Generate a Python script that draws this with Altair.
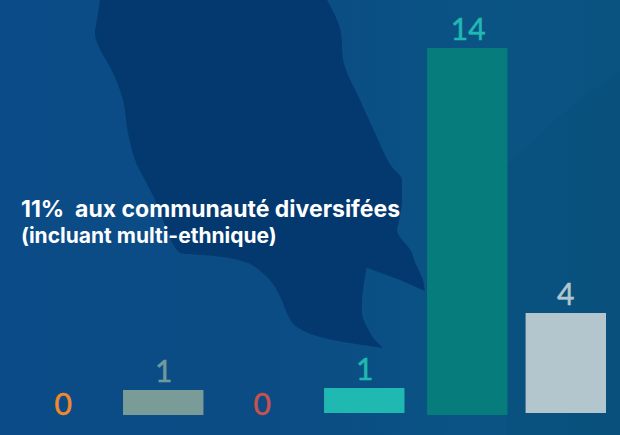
import altair as alt
import pandas as pd

W, H = 620, 435

categories = ["A", "B", "C", "D", "E", "F"]
shown_values = [0, 1, 0, 1, 14, 4]
bar_tops = [0, 0.95, 0, 1.03, 14, 3.89]
bar_bases = [0, 0, 0, 0.08, 0, 0.08]
bar_colors = ["#f08a2c", "#7a9c98", "#c9514f", "#20b9b2", "#077c7c", "#b3c5cd"]
label_colors = ["#f08a2c", "#6f9a9e", "#c9514f", "#20b9b2", "#20b9b2", "#b3c6ce"]

headline = ["11%\u00a0 aux communauté diversifées", "(incluant multi-ethnique)"]

blob_y = [0, 20, 33, 60, 67, 100, 133, 167, 180, 200, 225, 230, 253, 256, 262, 267]
blob_l = [100, 97, 95, 106, 110, 123, 128, 138, 145, 155, 165, 167, 180, 215, 245, 255]
blob_r = [327, 337, 341, 343, 345, 360, 375, 392, 402, 402, 398, 397, 412, 413, 415, 417]
tail_y = [266, 277, 303, 313, 327, 340, 348]
tail_l = [254, 267, 283, 287, 297, 333, 383]
tail_r = [367, 365, 362, 362, 367, 375, 383]
wing_y = [266, 280, 291]
wing_l = [362, 400, 425]
wing_r = [417, 423, 425]
shade_y = [72, 100, 130, 165, 435]
shade_l = [620, 578, 545, 507, 507]
shade_r = [620, 620, 620, 620, 620]

df = pd.DataFrame({"cat": categories, "val": shown_values, "top": bar_tops, "base": bar_bases,
                   "bar": bar_colors, "lab": label_colors})

px = alt.Scale(domain=[0, W], range=[0, W])
py = alt.Scale(domain=[0, H], range=[0, H])
xb = alt.Scale(type="band", domain=categories, range=[23, 606], paddingInner=0.2, paddingOuter=0)
yv = alt.Scale(domain=[0, 14], range=[415, 48])
noax = None

bg = alt.Chart(pd.DataFrame({"a": [0], "b": [W], "c": [0], "d": [H]})).mark_rect(
    color=alt.Gradient(gradient="linear", x1=0, x2=1, y1=0, y2=0, stops=[
        alt.GradientStop(offset=0, color="#0b4c88"),
        alt.GradientStop(offset=0.45, color="#0b4c84"),
        alt.GradientStop(offset=0.8, color="#0a5484"),
        alt.GradientStop(offset=1, color="#0a5280"),
    ])
).encode(
    x=alt.X("a:Q", scale=px, axis=noax), x2="b:Q",
    y=alt.Y("c:Q", scale=py, axis=noax), y2="d:Q",
)


def band(ys, ls, rs, color, opacity=1.0, interpolate="monotone"):
    d = pd.DataFrame({"y": ys, "l": ls, "r": rs})
    return alt.Chart(d).mark_area(orient="horizontal", color=color, opacity=opacity, interpolate=interpolate).encode(
        y=alt.Y("y:Q", scale=py, axis=noax, sort=None),
        x=alt.X("l:Q", scale=px, axis=noax), x2="r:Q",
    )


blob = band(blob_y, blob_l, blob_r, "#03396f")
tail = band(tail_y, tail_l, tail_r, "#03396f")
wing = band(wing_y, wing_l, wing_r, "#03396f", interpolate="linear")
shade = band(shade_y, shade_l, shade_r, "#043f5c", 0.07, "linear")

nudge = alt.expr("datum.cat == 'E' ? 2 : (datum.cat == 'B' || datum.cat == 'D' ? -0.5 : 0)")
bars = alt.Chart(df).transform_filter("datum.val > 0").mark_bar(cornerRadius=0, xOffset=nudge).encode(
    x=alt.X("cat:N", scale=xb, axis=noax),
    y=alt.Y("top:Q", scale=yv, axis=noax), y2="base:Q",
    color=alt.Color("bar:N", scale=None),
)

font = dict(font="Lato", fontSize=30, baseline="alphabetic", align="center", strokeWidth=0.5)
nums = alt.Chart(df).transform_filter("datum.val > 0").mark_text(dy=-8, xOffset=alt.expr("datum.cat == 'E' ? 3 : 0"), **font).encode(
    x=alt.X("cat:N", scale=xb, axis=noax),
    y=alt.Y("top:Q", scale=yv, axis=noax),
    text="val:Q", color=alt.Color("lab:N", scale=None), stroke=alt.Stroke("lab:N", scale=None),
)
zeros = alt.Chart(df).transform_filter("datum.val == 0").mark_text(xOffset=alt.expr("datum.cat == 'C' ? -2 : 0"), **font).encode(
    x=alt.X("cat:N", scale=xb, axis=noax),
    y=alt.Y("top:Q", scale=yv, axis=noax),
    text="val:Q", color=alt.Color("lab:N", scale=None), stroke=alt.Stroke("lab:N", scale=None),
)

t1 = alt.Chart(pd.DataFrame({"t": [headline[0]]})).mark_text(
    font="Inter", fontWeight=700, fontSize=23, color="white", align="left", baseline="alphabetic"
).encode(x=alt.value(21), y=alt.value(217), text="t:N")
t2 = alt.Chart(pd.DataFrame({"t": [headline[1]]})).mark_text(
    font="Inter", fontWeight=700, fontSize=21, color="white", align="left", baseline="alphabetic"
).encode(x=alt.value(21), y=alt.value(243), text="t:N")

chart = alt.layer(bg, shade, blob, tail, wing, bars, nums, zeros, t1, t2).resolve_scale(
    x="independent", y="independent", color="independent", stroke="independent"
).properties(
    width=W, height=H, padding=0, autosize=alt.AutoSizeParams(type="none"), background="#0b4c88"
).configure_view(stroke=None)

chart.save("out.html", embed_options={
    "renderer": "svg", "actions": False,
    "defaultStyle": "html,body{margin:0;padding:0;background:#0b4c88;overflow:hidden} .vega-embed{display:block}",
})
